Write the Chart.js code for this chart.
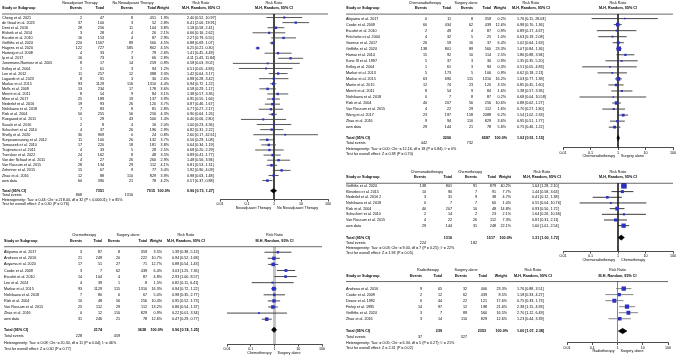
<!DOCTYPE html>
<html>
<head>
<meta charset="utf-8">
<script src="https://cdn.jsdelivr.net/npm/chart.js@4.4.1/dist/chart.umd.min.js"></script>
<style>
  body { margin: 0; background: #fff; width: 677px; height: 358px; position: relative; overflow: hidden; }
  canvas { position: absolute; }
</style>
</head>
<body>
<canvas id="p1"></canvas>
<canvas id="p2"></canvas>
<canvas id="p3"></canvas>
<canvas id="p4"></canvas>
<canvas id="p5"></canvas>
<script>
// ---- shared ----
var xTicks = [0.01, 0.1, 1, 10, 100];

// ---- panel 1: neoadjuvant therapy vs no neoadjuvant therapy ----
var groups1 = ['Neoadjuvant Therapy', 'No Neoadjuvant Therapy'];
var studies1 = ['Cheng et al. 2021', 'de Graaf et al. 2023', 'Dent et al. 2016', 'Elsheik et al. 2014', 'Escofet et al. 2010',
  'Griffiths et al. 2024', 'Hagens et al. 2020', 'Hartwig et al. 2008', 'Ip et al. 2017', 'Junemann-Ramirez et al. 2005',
  'Kelley et al. 2004', 'Lee et al. 2012', 'Lagarde et al. 2023', 'Markar et al. 2015', 'Mells et al. 2009',
  'Merritt et al. 2011', 'Mine et al. 2017', 'Nederlof et al. 2016', 'Nishikawa et al. 2018', 'Rizk et al. 2004',
  'Ruegaard et al. 2011', 'Sasaki et al. 2010', 'Schuchert et al. 2010', 'Shelly et al. 2020', 'Sunpaweravong et al. 2012',
  'Tomaszek et al. 2010', 'Tsujimoto et al. 2011', 'Tverskov et al. 2022', 'Van der Schaaf et al. 2011', 'Van Rossum et al. 2015',
  'Zehetner et al. 2015', 'Zhao et al. 2016', 'own data'];
var evA1 = [2, 37, 28, 3, 16, 220, 122, 4, 16, 8, 1, 11, 8, 93, 13, 8, 25, 19, 7, 50, 1, 2, 4, 30, 11, 17, 4, 24, 4, 28, 15, 12, 60];
var totA1 = [47, 100, 256, 28, 153, 1567, 727, 33, 73, 17, 61, 257, 91, 1129, 234, 54, 189, 93, 83, 255, 29, 8, 37, 969, 100, 220, 33, 162, 27, 134, 67, 88, 390];
var evB1 = [8, 3, 11, 4, 4, 89, 585, 7, 3, 14, 3, 12, 3, 116, 17, 9, 19, 26, 8, 56, 43, 4, 26, 0, 26, 18, 5, 8, 26, 29, 9, 110, 21];
var totB1 = [451, 52, 104, 26, 87, 560, 802, 79, 66, 259, 94, 388, 30, 1310, 178, 84, 137, 120, 81, 256, 500, 16, 196, 24, 132, 181, 28, 48, 260, 112, 77, 829, 78];
var weight1 = [1.9, 2.8, 3.8, 2.1, 2.9, 4.5, 4.5, 2.6, 2.8, 0.9, 1.2, 3.3, 2.6, 4.4, 3.6, 3.1, 3.9, 3.7, 2.8, 4.3, 1.4, 2.0, 2.9, 0.8, 3.7, 3.8, 2.5, 3.5, 2.9, 4.1, 3.4, 3.9, 4.2];
var rr1 = [2.40, 6.41, 1.18, 0.66, 2.27, 0.88, 0.25, 1.41, 4.11, 0.58, 0.51, 1.42, 0.98, 0.94, 0.58, 1.38, 0.95, 0.87, 0.77, 0.90, 0.40, 1.00, 0.82, 2.60, 0.56, 0.64, 0.68, 0.89, 1.48, 0.81, 1.92, 0.98, 0.57];
var lo1 = [0.52, 2.06, 0.58, 0.16, 0.79, 0.69, 0.21, 0.45, 1.43, 0.03, 0.05, 0.64, 0.28, 0.72, 0.29, 0.57, 0.55, 0.46, 0.27, 0.64, 0.06, 0.23, 0.31, 0.17, 0.29, 0.34, 0.20, 0.41, 0.56, 0.53, 0.90, 0.63, 0.37];
var hi1 = [10.97, 19.91, 2.41, 2.62, 6.55, 1.07, 0.30, 4.49, 11.84, 9.02, 4.83, 3.17, 3.42, 1.22, 1.17, 3.36, 1.66, 1.67, 2.17, 1.26, 2.80, 4.36, 2.22, 42.61, 1.08, 1.19, 2.29, 1.77, 3.94, 1.31, 4.09, 1.48, 0.88];
var total1 = [7351, 7015, 0.96, 0.73, 1.27];   // totals A, B, RR, lo, hi
var events1 = [868, 1316];
var stats1 = ['Heterogeneity: Tau\u00b2 = 0.44; Chi\u00b2 = 218.44, df = 32 (P < 0.00001); I\u00b2 = 85%', 'Test for overall effect: Z = 0.30 (P = 0.76)'];

// ---- panel 2: chemoradiotherapy vs surgery alone ----
var groups2 = ['Chemoradiotherapy', 'Surgery alone'];
var studies2 = ['Akiyama et al. 2017', 'Cooke et al. 2009', 'Escofet et al. 2010', 'Fr\u00e9chette et al. 2004', 'Goense et al. 2017',
  'Griffiths et al. 2024', 'Hamai et al. 2014', 'Kane III et al. 1997', 'Kelley et al. 2004', 'Markar et al. 2013',
  'Markar et al. 2015', 'Martin et al. 2015', 'Merritt et al. 2011', 'Nishikawa et al. 2018', 'Rizk et al. 2004',
  'Van Rossum et al. 2015', 'Wang et al. 2017', 'Zhao et al. 2016', 'own data'];
var evA2 = [0, 60, 2, 4, 26, 138, 15, 5, 1, 5, 63, 12, 8, 0, 40, 4, 23, 9, 29];
var totA2 = [11, 434, 49, 32, 59, 801, 92, 37, 61, 173, 690, 74, 54, 7, 207, 22, 197, 94, 144];
var evB2 = [8, 62, 4, 5, 16, 89, 10, 3, 3, 5, 115, 23, 9, 8, 56, 29, 158, 110, 21];
var totB2 = [359, 439, 87, 25, 37, 560, 114, 30, 94, 106, 1310, 120, 84, 87, 256, 112, 2088, 829, 78];
var weight2 = [0.2, 12.6, 0.9, 1.0, 6.4, 23.3, 2.5, 0.9, 0.3, 0.9, 16.2, 3.5, 1.6, 0.2, 10.6, 1.6, 6.2, 3.6, 5.6];
var rr2 = [1.76, 0.98, 0.89, 0.63, 1.02, 1.07, 1.86, 1.35, 0.51, 0.62, 1.03, 0.85, 1.38, 0.68, 0.88, 0.70, 1.54, 0.95, 0.75];
var lo2 = [0.11, 0.70, 0.17, 0.19, 0.64, 0.84, 0.88, 0.35, 0.05, 0.18, 0.77, 0.45, 0.57, 0.04, 0.62, 0.27, 1.02, 0.51, 0.46];
var hi2 = [28.03, 1.36, 4.67, 2.08, 1.63, 1.36, 3.94, 5.20, 4.83, 2.11, 1.38, 1.60, 3.36, 10.58, 1.27, 1.80, 2.33, 1.77, 1.22];
var total2 = [3206, 6587, 1.02, 0.91, 1.15];
var events2 = [442, 732];
var stats2 = ['Heterogeneity: Tau\u00b2 = 0.00; Chi\u00b2 = 12.16, df = 18 (P = 0.84); I\u00b2 = 0%', 'Test for overall effect: Z = 0.38 (P = 0.70)'];

// ---- panel 3: chemoradiotherapy vs chemotherapy ----
var groups3 = ['Chemoradiotherapy', 'Chemotherapy'];
var studies3 = ['Griffiths et al. 2024', 'Klevebro et al. 2015', 'Nederlof et al. 2016 2', 'Nishikawa et al. 2018', 'Rizk et al. 2004',
  'Schuchert et al. 2010', 'Van Rossum et al. 2015', 'own data'];
var evA3 = [138, 10, 3, 0, 40, 2, 4, 29];
var totA3 = [801, 90, 31, 7, 207, 14, 22, 144];
var evB3 = [91, 7, 9, 7, 10, 2, 26, 31];
var totB3 = [879, 91, 38, 60, 48, 23, 112, 248];
var weight3 = [40.2, 7.7, 4.7, 1.0, 14.8, 2.1, 7.3, 22.1];
var rr3 = [1.64, 1.44, 0.41, 0.55, 0.93, 1.64, 0.81, 1.60];
var lo3 = [1.28, 0.58, 0.12, 0.04, 0.50, 0.26, 0.31, 1.01];
var hi3 = [2.10, 3.63, 1.38, 10.76, 1.72, 10.36, 2.11, 2.54];
var total3 = [1316, 1517, 1.31, 1.00, 1.72];
var events3 = [224, 182];
var stats3 = ['Heterogeneity: Tau\u00b2 = 0.03; Chi\u00b2 = 9.00, df = 7 (P = 0.25); I\u00b2 = 22%', 'Test for overall effect: Z = 1.93 (P = 0.05)'];

// ---- panel 4: chemotherapy vs surgery alone ----
var groups4 = ['Chemotherapy', 'Surgery alone'];
var studies4 = ['Akiyama et al. 2017', 'Andreou et al. 2016', 'Aoyama et al. 2020', 'Cooke et al. 2009', 'Escofet et al. 2010',
  'Lee et al. 2024', 'Markar et al. 2015', 'Nishikawa et al. 2018', 'Rizk et al. 2004', 'Van Rossum et al. 2015',
  'Zhao et al. 2016', 'own data'];
var evA4 = [3, 21, 17, 3, 14, 4, 93, 7, 10, 25, 0, 31];
var totA4 = [87, 249, 51, 7, 104, 39, 1129, 80, 48, 112, 12, 246];
var evB4 = [8, 20, 27, 62, 4, 1, 115, 6, 56, 29, 110, 21];
var totB4 = [359, 222, 71, 439, 87, 8, 1310, 67, 256, 112, 829, 78];
var weight4 = [3.5, 10.7, 12.7, 6.4, 4.8, 1.5, 16.3, 5.0, 10.4, 13.2, 0.9, 12.6];
var rr4 = [1.39, 0.94, 0.88, 3.03, 2.93, 0.82, 0.94, 0.98, 0.95, 0.86, 0.22, 0.47];
var lo4 = [0.38, 0.52, 0.54, 1.25, 1.00, 0.11, 0.72, 0.35, 0.52, 0.54, 0.01, 0.29];
var hi4 = [5.13, 1.68, 1.43, 7.36, 8.57, 6.41, 1.22, 2.77, 1.73, 1.37, 3.34, 0.77];
var total4 = [2174, 3638, 0.96, 0.74, 1.25];
var events4 = [228, 459];
var stats4 = ['Heterogeneity: Tau\u00b2 = 0.08; Chi\u00b2 = 20.30, df = 11 (P = 0.04); I\u00b2 = 46%', 'Test for overall effect: Z = 0.30 (P = 0.77)'];

// ---- panel 5: radiotherapy vs surgery alone ----
var groups5 = ['Radiotherapy', 'Surgery alone'];
var studies5 = ['Andreou et al. 2016', 'Cooke et al. 2009', 'Dewar et al. 1992', 'Finley et al. 1995', 'Griffiths et al. 2024', 'Zhao et al. 2016'];
var evA5 = [9, 2, 6, 14, 3, 3];
var totA5 = [65, 12, 44, 97, 7, 14];
var evB5 = [32, 62, 22, 12, 89, 110];
var totB5 = [406, 439, 121, 198, 560, 829];
var weight5 = [23.3, 8.5, 17.6, 21.6, 16.5, 12.6];
var rr5 = [1.76, 1.18, 0.75, 2.38, 2.70, 1.23];
var lo5 = [0.88, 0.33, 0.33, 1.15, 1.12, 0.44];
var hi5 = [3.51, 4.27, 1.73, 4.93, 6.49, 3.39];
var total5 = [239, 2353, 1.60, 1.07, 2.38];
var events5 = [37, 327];
var stats5 = ['Heterogeneity: Tau\u00b2 = 0.05; Chi\u00b2 = 6.34, df = 5 (P = 0.27); I\u00b2 = 21%', 'Test for overall effect: Z = 2.31 (P = 0.02)'];

var FONT = '"Liberation Sans", Arial, sans-serif';
var FS = 3.7;
var AXH = 10;

function ciText(e, l, h) {
  return e.toFixed(2) + ' [' + l.toFixed(2) + ', ' + h.toFixed(2) + ']';
}

function forest(id, d, g) {
  var cv = document.getElementById(id);
  cv.width = g.w; cv.height = g.h;
  cv.style.left = g.left + 'px'; cv.style.top = g.top + 'px';

  var n = d.studies.length;
  var rowOf = function (px) { return (px - g.y0) / g.step; };
  var yMin = rowOf(g.top), yMax = rowOf(g.axisY);
  var totRow = n - 1 + g.gap;
  var hdrRow = rowOf(g.colY + 2.6);

  var datasets = [];
  // reference line at RR = 1
  datasets.push({ data: [{ x: 1, y: hdrRow }, { x: 1, y: yMax }], showLine: true, borderColor: g.refColor,
    borderWidth: g.refWidth, pointRadius: 0, order: 5 });
  // confidence intervals
  d.studies.forEach(function (s, i) {
    datasets.push({ data: [{ x: d.lo[i], y: i }, { x: d.hi[i], y: i }], showLine: true, borderColor: g.ciColor,
      borderWidth: 0.9, pointRadius: 0, order: 4 });
  });
  // study estimates
  datasets.push({ data: d.rr.map(function (v, i) { return { x: v, y: i }; }), pointStyle: 'rect',
    pointRadius: d.weight.map(function (w) { return (1.2 + 0.66 * Math.sqrt(w)) / 1.414; }),
    backgroundColor: '#2d31c2', borderWidth: 0, order: 3 });
  // pooled diamond
  var t = d.total;
  datasets.push({ data: [{ x: t[3], y: totRow }, { x: t[2], y: totRow - 0.45 }, { x: t[4], y: totRow }],
    showLine: true, borderColor: '#000', borderWidth: 0.5, pointRadius: 0, order: 1 });
  datasets.push({ data: [{ x: t[3], y: totRow }, { x: t[2], y: totRow + 0.45 }, { x: t[4], y: totRow }],
    showLine: true, borderColor: '#000', borderWidth: 0.5, pointRadius: 0, fill: '-1', backgroundColor: '#000', order: 0 });

  var textPlugin = {
    id: 'table' + id,
    afterDraw: function (chart) {
      var ctx = chart.ctx, ys = chart.scales.y, xs = chart.scales.x;
      var Y = function (r) { return ys.getPixelForValue(r); };
      var X = function (px) { return px - g.left; };
      var c = g.cols;
      function put(s, px, py, align, bold) {
        ctx.font = (bold ? 'bold ' : '') + FS + 'px ' + FONT;
        ctx.textAlign = align;
        ctx.fillText(s, X(px), py);
      }
      ctx.save();
      ctx.fillStyle = '#000';
      ctx.textBaseline = 'middle';
      var plotMid = g.left + (xs.left + xs.right) / 2;

      // group headers
      var gy = g.groupY - g.top;
      put(d.groups[0], c.g1, gy, 'center');
      put(d.groups[1], c.g2, gy, 'center');
      put('Risk Ratio', c.rrC, gy, 'center');
      put('Risk Ratio', plotMid, gy, 'center');
      // column headers
      var cy = g.colY - g.top;
      put('Study or Subgroup', c.study, cy, 'left', true);
      put('Events', c.evA, cy, 'right', true);
      put('Total', c.totA, cy, 'right', true);
      put('Events', c.evB, cy, 'right', true);
      put('Total', c.totB, cy, 'right', true);
      put('Weight', c.w, cy, 'right', true);
      put('M-H, Random, 95% CI', c.rrC, cy, 'center', true);
      put('M-H, Random, 95% CI', plotMid, cy, 'center', true);
      ctx.strokeStyle = '#000';
      ctx.lineWidth = 0.6;
      ctx.beginPath();
      ctx.moveTo(X(c.study), Y(hdrRow));
      ctx.lineTo(xs.right, Y(hdrRow));
      ctx.stroke();

      // study rows
      d.studies.forEach(function (s, i) {
        var y = Y(i);
        put(s, c.study, y, 'left');
        put(String(d.evA[i]), c.evA, y, 'right');
        put(String(d.totA[i]), c.totA, y, 'right');
        put(String(d.evB[i]), c.evB, y, 'right');
        put(String(d.totB[i]), c.totB, y, 'right');
        put(d.weight[i].toFixed(1) + '%', c.w, y, 'right');
        put(ciText(d.rr[i], d.lo[i], d.hi[i]), c.rr, y, 'left');
      });

      // totals
      var ty = Y(totRow);
      put('Total (95% CI)', c.study, ty, 'left', true);
      put(String(t[0]), c.totA, ty, 'right', true);
      put(String(t[1]), c.totB - 1, ty, 'right', true);
      put('100.0%', c.w + 1, ty, 'right', true);
      put(ciText(t[2], t[3], t[4]), c.rr, ty, 'left', true);
      var ey = Y(totRow + g.fstep);
      put('Total events', c.study, ey, 'left');
      put(String(d.events[0]), c.evA, ey, 'right');
      put(String(d.events[1]), c.evB, ey, 'right');
      put(d.stats[0], c.study, Y(totRow + 2 * g.fstep), 'left');
      put(d.stats[1], c.study, Y(totRow + 3 * g.fstep), 'left');

      // favours labels under the axis
      var one = xs.getPixelForValue(1);
      var ly = g.axisY - g.top + 8.5;
      ctx.font = FS + 'px ' + FONT;
      ctx.textAlign = 'right';
      ctx.fillText(d.groups[0], one - 3, ly);
      ctx.textAlign = 'left';
      ctx.fillText(d.groups[1], one + 3, ly);
      ctx.restore();
    }
  };

  return new Chart(cv, {
    type: 'scatter',
    data: { datasets: datasets },
    options: {
      responsive: false,
      animation: false,
      devicePixelRatio: 1,
      layout: { padding: { left: g.x0 - g.left, right: g.left + g.w - g.x1, top: 0, bottom: g.h - AXH - (g.axisY - g.top) } },
      plugins: { legend: { display: false }, tooltip: { enabled: false } },
      scales: {
        x: {
          type: 'logarithmic', min: 0.01, max: 100,
          afterBuildTicks: function (s) { s.ticks = xTicks.map(function (v) { return { value: v }; }); },
          afterFit: function (s) { s.height = AXH; },
          ticks: { font: { size: FS, family: FONT }, color: '#000', padding: 0.5, autoSkip: false, maxRotation: 0,
            callback: function (v) { return String(v); } },
          grid: { drawOnChartArea: false, tickLength: 2.5, color: '#000', lineWidth: 0.7 },
          border: { color: '#000', width: 0.7 }
        },
        y: { type: 'linear', display: false, reverse: true, min: yMin, max: yMax }
      }
    },
    plugins: [textPlugin]
  });
}

forest('p1',
  { groups: groups1, studies: studies1, evA: evA1, totA: totA1, evB: evB1, totB: totB1, weight: weight1,
    rr: rr1, lo: lo1, hi: hi1, total: total1, events: events1, stats: stats1 },
  { left: 0, top: 0, w: 337, h: 215, groupY: 2.8, colY: 7.6, y0: 13.8, step: 5.2, gap: 2.0, fstep: 0.88, axisY: 199,
    x0: 220, x1: 328, refColor: '#000', refWidth: 0.7, ciColor: '#444',
    cols: { study: 2, evA: 82, totA: 104, evB: 133, totB: 156, w: 169, rr: 187, rrC: 201, g1: 80, g2: 133 } });

forest('p2',
  { groups: groups2, studies: studies2, evA: evA2, totA: totA2, evB: evB2, totB: totB2, weight: weight2,
    rr: rr2, lo: lo2, hi: hi2, total: total2, events: events2, stats: stats2 },
  { left: 340, top: 0, w: 337, h: 163, groupY: 2.5, colY: 7.8, y0: 15.0, step: 6.2, gap: 1.8, fstep: 0.9, axisY: 147.5,
    x0: 563, x1: 673, refColor: '#000', refWidth: 0.7, ciColor: '#333',
    cols: { study: 346, evA: 427, totA: 451, evB: 473, totB: 491, w: 506, rr: 517, rrC: 531, g1: 425, g2: 466 } });

forest('p3',
  { groups: groups3, studies: studies3, evA: evA3, totA: totA3, evB: evB3, totB: totB3, weight: weight3,
    rr: rr3, lo: lo3, hi: hi3, total: total3, events: events3, stats: stats3 },
  { left: 340, top: 164, w: 337, h: 100, groupY: 172.3, colY: 177.4, y0: 182.8, step: 5.95, gap: 2.1, fstep: 0.9, axisY: 251,
    x0: 563, x1: 673, refColor: '#000', refWidth: 0.7, ciColor: '#222',
    cols: { study: 346, evA: 426, totA: 452, evB: 477, totB: 496, w: 511, rr: 532, rrC: 542, g1: 427, g2: 470 } });

forest('p4',
  { groups: groups4, studies: studies4, evA: evA4, totA: totA4, evB: evB4, totB: totB4, weight: weight4,
    rr: rr4, lo: lo4, hi: hi4, total: total4, events: events4, stats: stats4 },
  { left: 0, top: 226, w: 337, h: 132, groupY: 235, colY: 240.7, y0: 249, step: 6.3, gap: 1.75, fstep: 1.05, axisY: 344,
    x0: 227, x1: 322, refColor: '#c4c4c4', refWidth: 3, ciColor: '#333',
    cols: { study: 4, evA: 82, totA: 102, evB: 120, totB: 147, w: 162, rr: 172, rrC: 186, g1: 84, g2: 128 } });

forest('p5',
  { groups: groups5, studies: studies5, evA: evA5, totA: totA5, evB: evB5, totB: totB5, weight: weight5,
    rr: rr5, lo: lo5, hi: hi5, total: total5, events: events5, stats: stats5 },
  { left: 340, top: 264, w: 337, h: 94, groupY: 270, colY: 275.7, y0: 285.7, step: 6.35, gap: 2.05, fstep: 0.95, axisY: 342.5,
    x0: 567, x1: 668, refColor: '#888', refWidth: 0.8, ciColor: '#777',
    cols: { study: 346, evA: 422, totA: 442, evB: 467, totB: 487, w: 507, rr: 517, rrC: 533, g1: 428, g2: 466 } });
</script>
</body>
</html>
